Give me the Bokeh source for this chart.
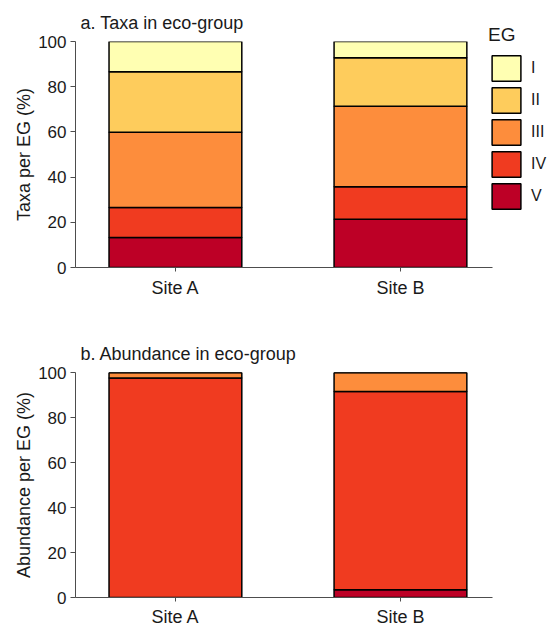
from bokeh.plotting import figure
from bokeh.models import FixedTicker, Legend, LegendItem, Range1d, ColumnDataSource
from bokeh.layouts import column
from bokeh.embed import file_html
from bokeh.resources import INLINE

sites = ["Site A", "Site B"]
groups = ["V", "IV", "III", "II", "I"]
legend_order = ["I", "II", "III", "IV", "V"]
taxa_V = [13.3, 21.4]
taxa_IV = [13.3, 14.3]
taxa_III = [33.3, 35.7]
taxa_II = [26.7, 21.4]
taxa_I = [13.4, 7.2]
abund_V = [0.0, 3.4]
abund_IV = [97.6, 88.2]
abund_III = [2.4, 8.4]
abund_II = [0.0, 0.0]
abund_I = [0.0, 0.0]
colors = {"I": "#FFFFB2", "II": "#FECC5C", "III": "#FD8D3C", "IV": "#F03B20", "V": "#BD0026"}
y_ticks = [0, 20, 40, 60, 80, 100]

FONT = "Liberation Sans"
AXIS_COLOR = "#4d4d4d"
TEXT_COLOR = "#1a1a1a"
xpos = [1, 2]


def make_fig(title, ylabel, data, top, bottom, fh, right, xstand, with_legend=False):
    p = figure(frame_width=417, frame_height=fh, output_backend="svg", toolbar_location=None,
               x_range=Range1d(0.556, 2.409), y_range=Range1d(0, 100))
    p.min_border_left = 75
    p.min_border_right = right
    p.min_border_top = top
    p.min_border_bottom = bottom
    p.outline_line_color = None
    p.xgrid.grid_line_color = None
    p.ygrid.grid_line_color = None
    p.title.text = title
    p.title.align = "left"
    p.title.offset = 5
    p.title.text_font = FONT
    p.title.text_font_size = "18px"
    p.title.text_font_style = "normal"
    p.title.text_color = TEXT_COLOR
    p.title.standoff = 17

    src = ColumnDataSource(dict(x=xpos, **data))
    rs = p.vbar_stack(groups, x="x", width=0.59, source=src,
                      fill_color=[colors[g] for g in groups],
                      line_color="black", line_width=1.5)

    for ax in (p.xaxis[0], p.yaxis[0]):
        ax.axis_line_color = AXIS_COLOR
        ax.major_tick_line_color = AXIS_COLOR
        ax.minor_tick_line_color = None
        ax.major_tick_in = 0
        ax.major_label_text_font = FONT
        ax.major_label_text_color = TEXT_COLOR
        ax.axis_label_text_font = FONT
        ax.axis_label_text_color = TEXT_COLOR
        ax.axis_label_text_font_style = "normal"
    p.xaxis.major_tick_out = 4
    p.yaxis.major_tick_out = 5
    p.xaxis.ticker = FixedTicker(ticks=xpos)
    p.xaxis.major_label_overrides = {1: sites[0], 2: sites[1]}
    p.xaxis.major_label_text_font_size = "18px"
    p.xaxis.major_label_standoff = xstand
    p.yaxis.ticker = FixedTicker(ticks=y_ticks)
    p.yaxis.major_label_text_font_size = "17px"
    p.yaxis.major_label_standoff = 4
    p.yaxis.axis_label = ylabel
    p.yaxis.axis_label_text_font_size = "18px"
    p.yaxis.axis_label_standoff = 1

    if with_legend:
        by = dict(zip(groups, rs))
        items = [LegendItem(label=g, renderers=[by[g]]) for g in legend_order]
        leg = Legend(items=items, location=(-4, 55), title="EG")
        leg.title_text_font = FONT
        leg.title_text_font_size = "19px"
        leg.title_text_font_style = "normal"
        leg.title_text_color = TEXT_COLOR
        leg.title_standoff = 6
        leg.label_text_font = FONT
        leg.label_text_font_size = "16px"
        leg.label_text_color = TEXT_COLOR
        leg.glyph_width = 36
        leg.glyph_height = 32
        leg.spacing = 0
        leg.label_standoff = 7
        leg.padding = 0
        leg.margin = 0
        leg.border_line_color = None
        leg.background_fill_alpha = 0
        p.add_layout(leg, "right")
    return p


p1 = make_fig("a. Taxa in eco-group", "Taxa per EG (%)",
              dict(V=taxa_V, IV=taxa_IV, III=taxa_III, II=taxa_II, I=taxa_I),
              41, 39, 226, 0, 6, with_legend=True)
p2 = make_fig("b. Abundance in eco-group", "Abundance per EG (%)",
              dict(V=abund_V, IV=abund_IV, III=abund_III, II=abund_II, I=abund_I),
              66, 20, 225, 58, 5)

layout = column(p1, p2)
open("out.html", "w").write(file_html(layout, INLINE))
